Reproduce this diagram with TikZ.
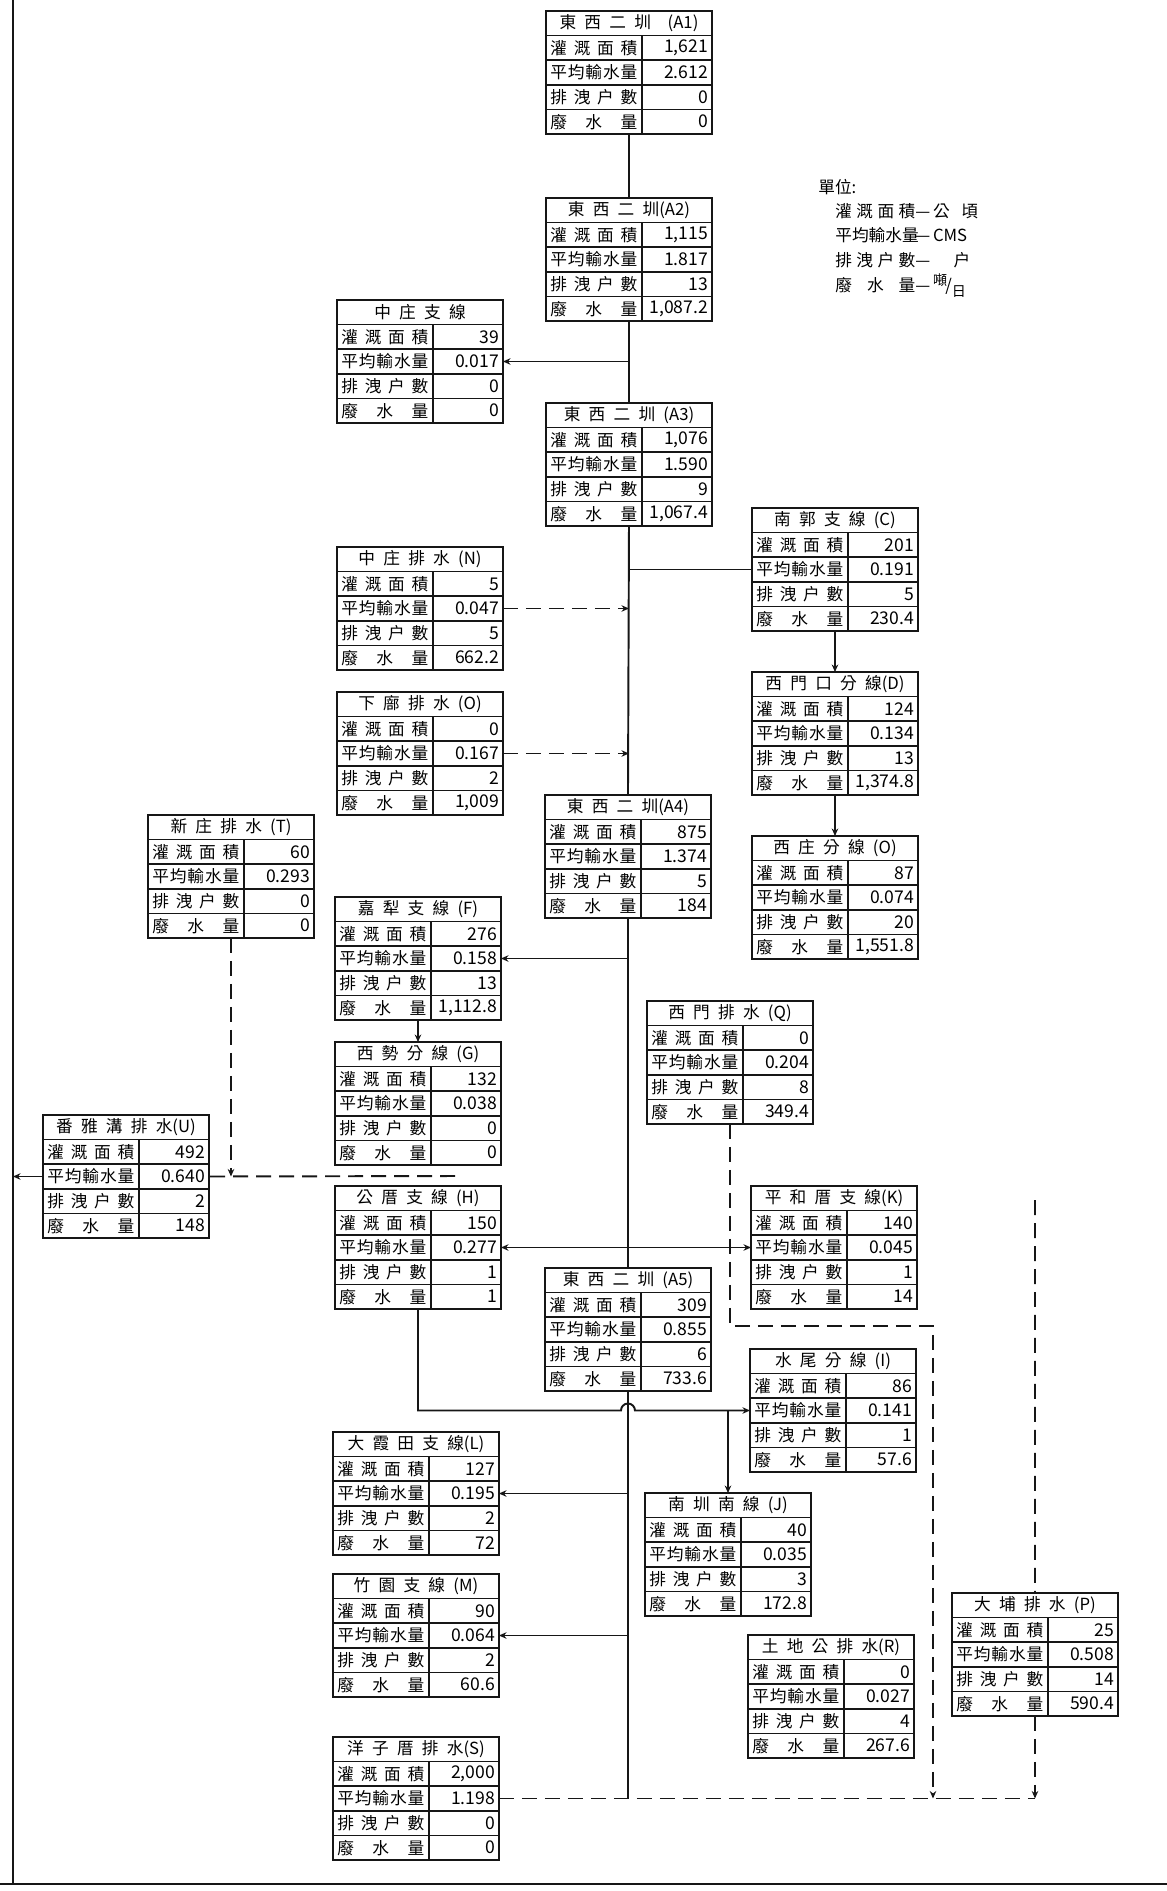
\documentclass[tikz,border=0pt]{standalone}
\usepackage{fontspec}
\setmainfont{Noto Sans CJK TC}[WordSpace=2.2]
\usepackage{tikz}
\usetikzlibrary{arrows.meta,calc}
\definecolor{ink}{HTML}{161616}
\def\rowh{0.492cm}
\def\labw{1.92cm}
\newcommand{\spr}[2][1.74cm]{\makebox[#1][s]{#2}}
% one canal table: name, top-left corner, title, four values
\newcommand{\chanbox}[8]{%
  \node[tbl] (#1) at (#2) {};
  \foreach \nr in {1,2,3,4}
    \draw[cellrule] ([yshift=-\nr*\rowh]#1.north west) -- ([yshift=-\nr*\rowh]#1.north east);
  \draw[cellrule] ([xshift=\labw,yshift=-\rowh]#1.north west) -- ([xshift=\labw]#1.south west);
  \node[hd] at ([yshift=-0.5*\rowh]#1.north) {#3};
  \node[lb] at ([xshift=0.08cm,yshift=-1.5*\rowh]#1.north west) {\spr{灌\hfill 溉\hfill 面\hfill 積}};
  \node[lb] at ([xshift=0.08cm,yshift=-2.5*\rowh]#1.north west) {\spr{平\hfill 均\hfill 輸\hfill 水\hfill 量}};
  \node[lb] at ([xshift=0.08cm,yshift=-3.5*\rowh]#1.north west) {\spr{排\hfill 洩\hfill 户\hfill 數}};
  \node[lb] at ([xshift=0.08cm,yshift=-4.5*\rowh]#1.north west) {\spr{廢\hfill 水\hfill 量}};
  \node[vl] at ([xshift=-0.07cm,yshift=-1.5*\rowh]#1.north east) {#4};
  \node[vl] at ([xshift=-0.07cm,yshift=-2.5*\rowh]#1.north east) {#5};
  \node[vl] at ([xshift=-0.07cm,yshift=-3.5*\rowh]#1.north east) {#6};
  \node[vl] at ([xshift=-0.07cm,yshift=-4.5*\rowh]#1.north east) {#7};
  #8}

\begin{document}
\begin{tikzpicture}[x=0.02cm, y=-0.02cm, font=\fontsize{9.5}{11}\selectfont,
  >={Stealth[length=1.5mm,width=1.3mm]},
  tbl/.style={draw=ink, line width=1.6pt, anchor=north west, inner sep=0pt, outer sep=0pt,
              minimum width=3.32cm, minimum height=2.46cm},
  cellrule/.style={draw=ink, line width=1pt},
  hd/.style={inner sep=0pt},
  lb/.style={anchor=west, inner sep=0pt},
  vl/.style={anchor=east, inner sep=0pt, font=\fontsize{10}{12}\selectfont},
  main/.style={draw=ink, line width=1.1pt},
  flow/.style={->, draw=ink, line width=1.1pt},
  drain/.style={draw=ink, line width=1.1pt, dash pattern=on 3mm off 1.6mm}]
\useasboundingbox (0,0) rectangle (1167,1891);
% -- frame of the sheet
\coordinate (edge) at (13,0);
\coordinate (foot) at (13,1884);
\draw[line width=1.3pt, draw=ink] (edge) -- (foot);
\draw[line width=1.3pt, draw=ink] (0,1884) -- (1167,1884);
% -- units
\node[anchor=west, inner sep=0pt] (unit) at (818,187) {單位:};
\node[anchor=west, inner sep=0pt] (u1) at (835,211) {\spr[1.6cm]{灌\hfill 溉\hfill 面\hfill 積}—\,公\hspace{0.7em}頃};
\node[anchor=west, inner sep=0pt] (u2) at (835,235) {\spr[1.6cm]{平\hfill 均\hfill 輸\hfill 水\hfill 量}—\,CMS};
\node[anchor=west, inner sep=0pt] (u3) at (835,260) {\spr[1.6cm]{排\hfill 洩\hfill 户\hfill 數}—\hspace{1.4em}户};
\node[anchor=west, inner sep=0pt] (u4) at (835,286) {\spr[1.6cm]{廢\hfill 水\hfill 量}—\,\raisebox{0.6ex}{\fontsize{8}{8}\selectfont 噸}\kern-0.1em/\raisebox{-0.6ex}{\fontsize{8}{8}\selectfont 日}};
% -- main canal
\chanbox{a1}{546,11}{東 西 二 圳\quad (A1)}{1,621}{2.612}{0}{0}{}
\chanbox{a2}{546,198}{東 西 二 圳(A2)}{1,115}{1.817}{13}{1,087.2}{}
\chanbox{a3}{546,403}{東 西 二 圳 (A3)}{1,076}{1.590}{9}{1,067.4}{}
\chanbox{a4}{545,795}{東 西 二 圳(A4)}{875}{1.374}{5}{184}{}
\chanbox{a5}{545,1268}{東 西 二 圳 (A5)}{309}{0.855}{6}{733.6}{}
% -- branches, left side
\chanbox{zz}{337,300}{中 庄 支 線\hspace{2.5em}}{39}{0.017}{0}{0}{}
\chanbox{n}{337,547}{中 庄 排 水 (N)}{5}{0.047}{5}{662.2}{}
\chanbox{o1}{337,692}{下 廍 排 水 (O)}{0}{0.167}{2}{1,009}{}
\chanbox{t}{148,815}{新 庄 排 水 (T)}{60}{0.293}{0}{0}{}
\chanbox{f}{335,897}{嘉 犁 支 線 (F)}{276}{0.158}{13}{1,112.8}{}
\chanbox{g}{335,1042}{西 勢 分 線 (G)}{132}{0.038}{0}{0}{}
\chanbox{u}{43,1115}{番 雅 溝 排 水(U)}{492}{0.640}{2}{148}{}
\chanbox{h}{335,1186}{公 厝 支 線 (H)}{150}{0.277}{1}{1}{}
\chanbox{l}{333,1432}{大 霞 田 支 線(L)}{127}{0.195}{2}{72}{}
\chanbox{m}{333,1574}{竹 園 支 線 (M)}{90}{0.064}{2}{60.6}{}
\chanbox{s}{333,1737}{洋 子 厝 排 水(S)}{2,000}{1.198}{0}{0}{}
% -- branches, right side
\chanbox{c}{752,508}{南 郭 支 線 (C)}{201}{0.191}{5}{230.4}{}
\chanbox{d}{752,672}{西 門 口 分 線(D)}{124}{0.134}{13}{1,374.8}{}
\chanbox{o2}{752,836}{西 庄 分 線 (O)}{87}{0.074}{20}{1,551.8}{}
\chanbox{q}{647,1001}{西 門 排 水 (Q)}{0}{0.204}{8}{349.4}{}
\chanbox{k}{751,1186}{平 和 厝 支 線(K)}{140}{0.045}{1}{14}{}
\chanbox{i}{750,1349}{水 尾 分 線 (I)}{86}{0.141}{1}{57.6}{}
\chanbox{j}{645,1493}{南 圳 南 線 (J)}{40}{0.035}{3}{172.8}{}
\chanbox{r}{748,1635}{土 地 公 排 水(R)}{0}{0.027}{4}{267.6}{}
\chanbox{p}{952,1593}{大 埔 排 水 (P)}{25}{0.508}{14}{590.4}{}
% -- canal lines
\foreach \a/\b in {a1/a2,a2/a3,a3/a4,a4/a5} \draw[main] (\a.south) -- (\b.north);
\draw[main] (a5.south) -- (a5.south |- s.east);
\foreach \b/\m in {zz/a2,f/a4,h/a4,l/a5,m/a5} \draw[flow] (\m.south |- \b.east) -- (\b.east);
\draw[flow] (a4.south |- k.west) -- (k.west);
\draw[main] (a3.south |- c.west) -- (c.west);
\foreach \a/\b in {c/d,d/o2,f/g} \draw[flow] (\a.south) -- (\b.north);
\draw[flow] (h.south) |- ($(a5.south |- i.west)+(-7,0)$) arc[start angle=180, end angle=0, radius=0.14cm] -- (i.west);
\draw[flow] (j.north |- i.west) -- (j.north);
% -- drains
\foreach \b in {n,o1} \draw[drain,->] (\b.east) -- (a3.south |- \b.east);
\coordinate (ustub) at (455,1176);
\draw[drain] (ustub) -- (u.east);
\draw[drain,->] (t.south) -- (t.south |- u.east);
\draw[flow] (u.west) -- (u.west -| edge);
\coordinate (qturn) at (933,1326);
\draw[drain,->] (q.south) |- (qturn) -- (qturn |- s.east);
\coordinate (ptop) at (1035,1200);
\draw[drain] (ptop) -- (p.north);
\draw[drain,->] (p.south) -- (p.south |- s.east);
\draw[drain] (s.east) -- (p.south |- s.east);
\end{tikzpicture}
\end{document}
